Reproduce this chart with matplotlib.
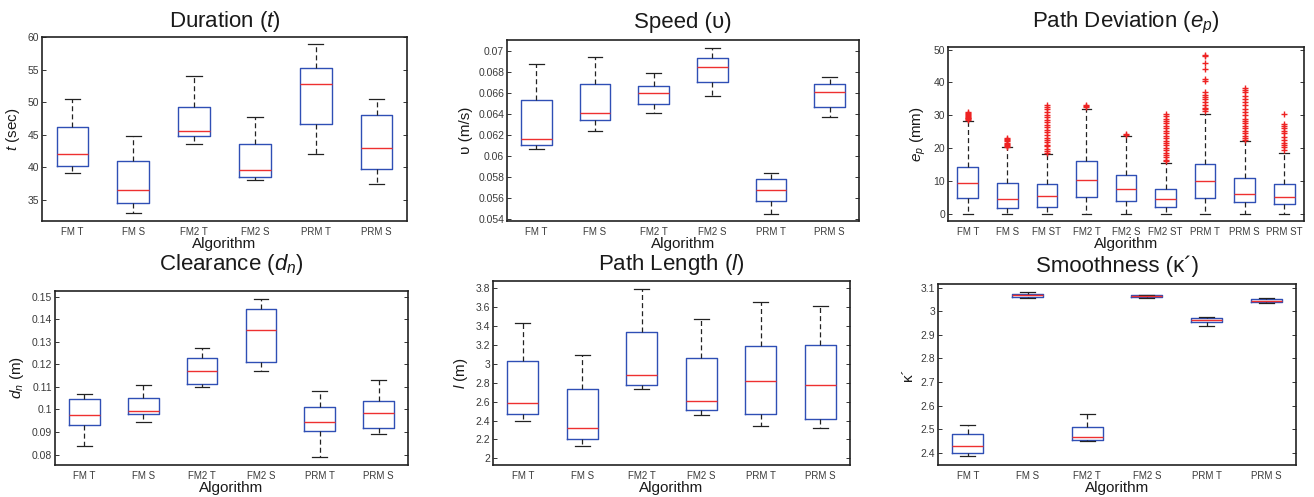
import matplotlib
matplotlib.use("Agg")
import matplotlib.pyplot as plt

plt.rcParams['font.family'] = ['Liberation Sans', 'DejaVu Sans']
plt.rcParams['mathtext.fontset'] = 'custom'
plt.rcParams['mathtext.rm'] = 'Liberation Sans'
plt.rcParams['mathtext.it'] = 'Liberation Sans:italic'

cats6 = ["FM T", "FM S", "FM2 T", "FM2 S", "PRM T", "PRM S"]
cats9 = ["FM T", "FM S", "FM ST", "FM2 T", "FM2 S", "FM2 ST", "PRM T", "PRM S", "PRM ST"]

# Duration (t)
dur_lo  = [39.14, 33.10, 43.59, 38.07, 42.06, 37.50]
dur_q1  = [40.20, 34.59, 44.87, 38.53, 46.66, 39.81]
dur_med = [42.06, 36.58, 45.63, 39.55, 52.74, 42.98]
dur_q3  = [46.20, 40.93, 49.26, 43.64, 55.25, 47.99]
dur_hi  = [50.44, 44.87, 54.00, 47.73, 58.88, 50.54]

# Speed
spd_lo  = [0.06068, 0.06243, 0.06415, 0.06577, 0.05454, 0.06370]
spd_q1  = [0.06109, 0.06342, 0.06501, 0.06704, 0.05575, 0.06469]
spd_med = [0.06163, 0.06408, 0.06599, 0.06850, 0.05683, 0.06609]
spd_q3  = [0.06532, 0.06685, 0.06669, 0.06936, 0.05788, 0.06682]
spd_hi  = [0.06876, 0.06940, 0.06793, 0.07029, 0.05836, 0.06749]

# Path deviation
dev_lo  = [0, 0, 0, 0, 0, 0, 0, 0, 0]
dev_q1  = [4.8, 1.8, 2.1, 5.1, 3.8, 2.1, 4.9, 3.6, 2.8]
dev_med = [9.2, 4.5, 5.4, 10.3, 7.4, 4.4, 10.0, 6.0, 5.0]
dev_q3  = [14.2, 9.2, 8.9, 16.0, 11.8, 7.6, 15.2, 10.9, 9.0]
dev_hi  = [28.2, 20.2, 18.1, 32.0, 23.7, 15.5, 30.5, 22.0, 18.4]
dev_out_fmt   = [28.6, 28.9, 29.1, 29.3, 29.6, 29.8, 30.0, 30.3, 30.6, 31.0]
dev_out_fms   = [20.4, 20.7, 21.0, 21.3, 21.6, 22.0, 22.4, 22.8, 23.2]
dev_out_fmst  = [18.6, 19.2, 19.8, 20.5, 21.0, 21.8, 22.5, 23.2, 24.0, 24.8, 25.5,
                 26.3, 27.0, 27.8, 28.6, 29.4, 30.2, 31.0, 31.8, 32.5, 33.2]
dev_out_fm2t  = [32.4, 32.7, 33.0]
dev_out_fm2s  = [24.0, 24.3]
dev_out_fm2st = [15.9, 16.5, 17.2, 17.9, 18.6, 19.3, 20.0, 20.8, 21.5, 22.2, 23.0,
                 23.8, 24.5, 25.3, 26.0, 26.8, 27.5, 28.3, 29.0, 29.7, 30.4]
dev_out_prmt  = [31.2, 31.8, 32.3, 33.0, 34.0, 35.0, 35.6, 36.3, 37.0, 40.3, 41.0,
                 44.0, 46.0, 48.0, 48.4]
dev_out_prms  = [22.6, 23.2, 23.8, 24.5, 25.2, 26.0, 26.8, 27.5, 28.3, 29.0, 30.0,
                 31.0, 32.0, 33.0, 34.0, 35.0, 36.0, 37.0, 37.6, 38.2]
dev_out_prmst = [19.5, 20.2, 20.8, 21.5, 22.5, 23.5, 24.5, 25.2, 26.0, 26.8, 27.3, 30.3]
dev_out = [dev_out_fmt, dev_out_fms, dev_out_fmst, dev_out_fm2t, dev_out_fm2s,
           dev_out_fm2st, dev_out_prmt, dev_out_prms, dev_out_prmst]

# Clearance
clr_lo  = [0.0838, 0.0946, 0.1100, 0.1169, 0.0790, 0.0890]
clr_q1  = [0.0930, 0.0979, 0.1112, 0.1212, 0.0905, 0.0920]
clr_med = [0.0974, 0.0993, 0.1171, 0.1354, 0.0946, 0.0986]
clr_q3  = [0.1048, 0.1051, 0.1230, 0.1445, 0.1011, 0.1039]
clr_hi  = [0.1067, 0.1110, 0.1271, 0.1491, 0.1081, 0.1132]

# Path length
len_lo  = [2.390, 2.133, 2.735, 2.457, 2.344, 2.323]
len_q1  = [2.464, 2.200, 2.780, 2.506, 2.471, 2.415]
len_med = [2.583, 2.316, 2.882, 2.605, 2.815, 2.770]
len_q3  = [3.030, 2.735, 3.332, 3.058, 3.188, 3.199]
len_hi  = [3.431, 3.093, 3.789, 3.469, 3.652, 3.606]

# Smoothness
smo_lo  = [2.387, 3.058, 2.448, 3.056, 2.936, 3.034]
smo_q1  = [2.398, 3.062, 2.454, 3.059, 2.956, 3.038]
smo_med = [2.428, 3.069, 2.466, 3.063, 2.964, 3.045]
smo_q3  = [2.480, 3.075, 2.510, 3.067, 2.971, 3.052]
smo_hi  = [2.519, 3.082, 2.564, 3.070, 2.974, 3.058]

W, H = 1314, 497
fig = plt.figure(figsize=(W / 100, H / 100), dpi=100)

BOX = '#2f4fb5'
MED = '#ee3030'
WHK = '#222222'
TXT = '#3a3a3a'


def add_ax(l, t, r, b):
    return fig.add_axes([l / W, 1 - b / H, (r - l) / W, (b - t) / H])


def panel(ax, cats, lo, q1, med, q3, hi, title, title_base, ylabel, ylim,
          yticks, yticklabels, fliers=None):
    stats = []
    for i in range(len(cats)):
        stats.append(dict(whislo=lo[i], q1=q1[i], med=med[i], q3=q3[i],
                          whishi=hi[i],
                          fliers=(fliers[i] if fliers is not None else [])))
    ax.bxp(stats, positions=range(1, len(cats) + 1), widths=0.52,
           capwidths=0.25, showfliers=True,
           boxprops=dict(color=BOX, linewidth=1.0),
           medianprops=dict(color=MED, linewidth=1.0),
           whiskerprops=dict(color=WHK, linewidth=0.9, linestyle=(0, (4, 2.5))),
           capprops=dict(color=WHK, linewidth=0.9),
           flierprops=dict(marker='+', markeredgecolor='#ee2222',
                           markerfacecolor='none', markersize=5,
                           markeredgewidth=1.0, linestyle='none'))
    ax.set_xlim(0.5, len(cats) + 0.5)
    ax.set_ylim(*ylim)
    ax.set_xticks(range(1, len(cats) + 1))
    ax.set_xticklabels(cats, fontsize=7, color=TXT)
    ax.set_yticks(yticks)
    ax.set_yticklabels(yticklabels, fontsize=7.5, color=TXT)
    ax.tick_params(axis='x', length=0, pad=4)
    ax.tick_params(axis='y', direction='in', length=3, right=True, width=0.7,
                   color='#333333', pad=2)
    for s in ax.spines.values():
        s.set_linewidth(1.2)
        s.set_color('#222222')
    pos = ax.get_position()
    fig.text((pos.x0 + pos.x1) / 2, 1 - title_base / H, title, fontsize=16,
             color='#1a1a1a', ha='center', va='baseline')
    ax.set_xlabel('Algorithm', fontsize=11, color='#1a1a1a', labelpad=0)
    ax.set_ylabel(ylabel, fontsize=11, color='#1a1a1a', labelpad=4)


ax1 = add_ax(42, 37, 407, 221)
panel(ax1, cats6, dur_lo, dur_q1, dur_med, dur_q3, dur_hi,
      'Duration ($t$)', 27, '$t$ (sec)', (31.8, 60),
      [35, 40, 45, 50, 55, 60], ['35', '40', '45', '50', '55', '60'])

ax2 = add_ax(507, 40, 859, 221)
panel(ax2, cats6, spd_lo, spd_q1, spd_med, spd_q3, spd_hi,
      'Speed (υ)', 28, 'υ (m/s)', (0.05384, 0.07105),
      [0.054, 0.056, 0.058, 0.060, 0.062, 0.064, 0.066, 0.068, 0.070],
      ['0.054', '0.056', '0.058', '0.06', '0.062', '0.064', '0.066', '0.068', '0.07'])

ax3 = add_ax(948, 47, 1304, 221)
panel(ax3, cats9, dev_lo, dev_q1, dev_med, dev_q3, dev_hi,
      'Path Deviation ($e_p$)', 27, '$e_p$ (mm)', (-2.24, 50.8),
      [0, 10, 20, 30, 40, 50], ['0', '10', '20', '30', '40', '50'],
      fliers=dev_out)

ax4 = add_ax(55, 291, 408, 465)
panel(ax4, cats6, clr_lo, clr_q1, clr_med, clr_q3, clr_hi,
      'Clearance ($d_n$)', 270, '$d_n$ (m)', (0.0754, 0.1525),
      [0.08, 0.09, 0.10, 0.11, 0.12, 0.13, 0.14, 0.15],
      ['0.08', '0.09', '0.1', '0.11', '0.12', '0.13', '0.14', '0.15'])

ax5 = add_ax(493, 281, 850, 465)
panel(ax5, cats6, len_lo, len_q1, len_med, len_q3, len_hi,
      'Path Length ($l$)', 270, '$l$ (m)', (1.93, 3.874),
      [2.0, 2.2, 2.4, 2.6, 2.8, 3.0, 3.2, 3.4, 3.6, 3.8],
      ['2', '2.2', '2.4', '2.6', '2.8', '3', '3.2', '3.4', '3.6', '3.8'])

ax6 = add_ax(938, 284, 1296, 465)
panel(ax6, cats6, smo_lo, smo_q1, smo_med, smo_q3, smo_hi,
      'Smoothness (κ´)', 272, 'κ´', (2.348, 3.1156),
      [2.4, 2.5, 2.6, 2.7, 2.8, 2.9, 3.0, 3.1],
      ['2.4', '2.5', '2.6', '2.7', '2.8', '2.9', '3', '3.1'])

fig.savefig('out.png', dpi=100)
